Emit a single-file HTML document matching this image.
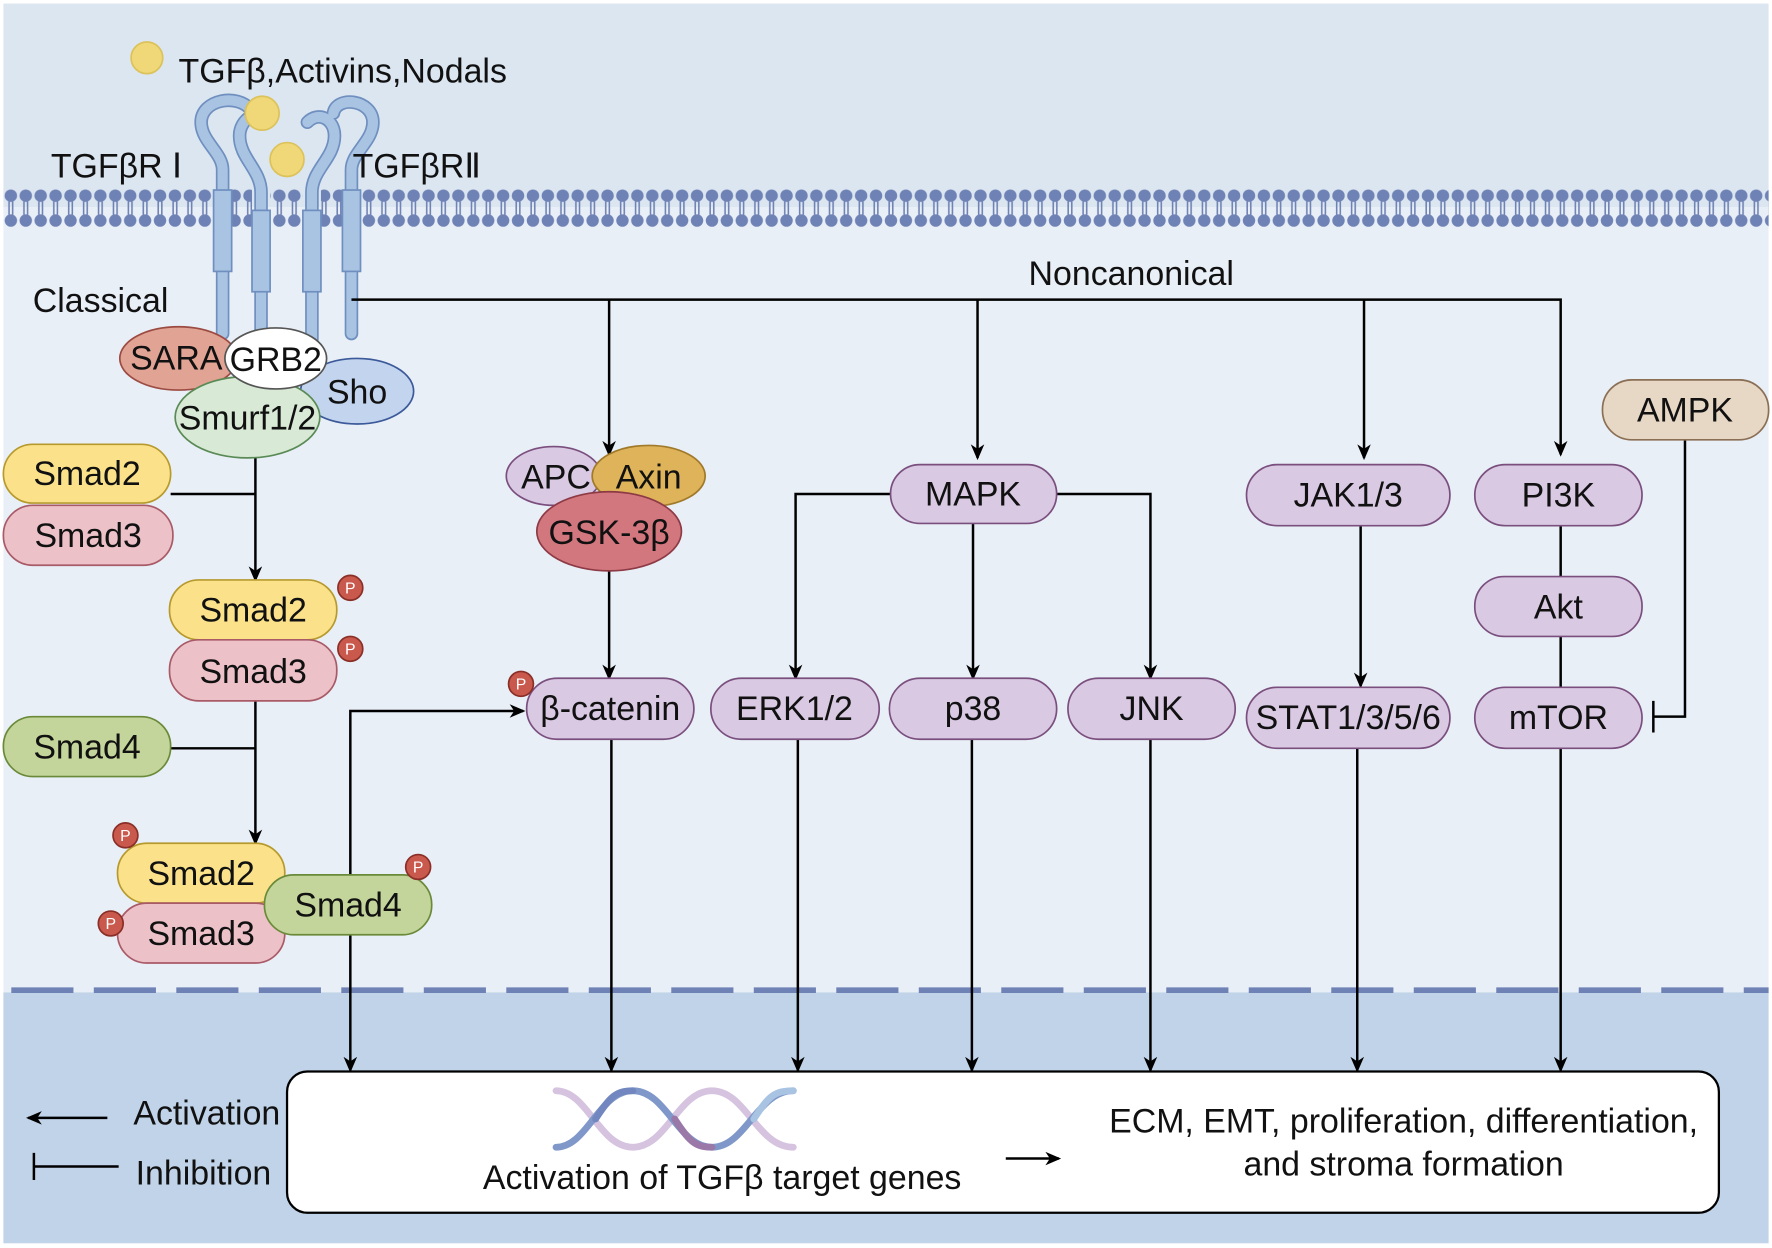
<!DOCTYPE html>
<html><head><meta charset="utf-8"><style>html,body{margin:0;padding:0;background:#fff}svg{display:block}text{font-family:"Liberation Sans",Arial,sans-serif;fill:#111}</style></head><body>
<svg width="1772" height="1248" viewBox="0 0 1568 1104" xmlns="http://www.w3.org/2000/svg">
<defs>
<marker id="ar" markerWidth="14" markerHeight="14" refX="12" refY="7" orient="auto" markerUnits="userSpaceOnUse"><path d="M0,1 L14,7 L0,13 L4,7 Z" fill="#000"/></marker>
<pattern id="lipT" x="3" y="166" width="13.2" height="36" patternUnits="userSpaceOnUse">
<circle cx="6.6" cy="7" r="5.5" fill="#6f82b5"/>
<circle cx="6.6" cy="29" r="5.5" fill="#6f82b5"/>
<line x1="5" y1="12" x2="5" y2="24" stroke="#6f82b5" stroke-width="1.4"/>
<line x1="8.2" y1="12" x2="8.2" y2="24" stroke="#6f82b5" stroke-width="1.4"/>
</pattern>
</defs>
<rect x="0" y="0" width="1568" height="1104" fill="#fff"/>
<rect x="3" y="3" width="1562" height="180" fill="#dbe6f1"/>
<rect x="3" y="183" width="1562" height="695" fill="#e9eff7"/>
<rect x="3" y="878" width="1562" height="222" fill="#c0d3e8"/>
<rect x="3" y="166" width="186" height="36" fill="url(#lipT)"/>
<rect x="205" y="166" width="18" height="36" fill="url(#lipT)"/>
<rect x="239" y="166" width="29" height="36" fill="url(#lipT)"/>
<rect x="284" y="166" width="19" height="36" fill="url(#lipT)"/>
<rect x="319" y="166" width="1246" height="36" fill="url(#lipT)"/>
<line x1="10" y1="876" x2="1565" y2="876" stroke="#6f82b5" stroke-width="5" stroke-dasharray="55,18"/>

<g fill="none" stroke-linecap="round">
<g stroke="#6f8fbf" stroke-width="12">
<path d="M197,295 V150 C197,135 178,125 178,108 C178,88 210,82 222,97"/>
<path d="M231,300 V170 C231,150 212,140 212,120 C212,105 228,95 240,105"/>
<path d="M276,300 V170 C276,150 296,140 296,120 C296,105 282,98 272,108"/>
<path d="M311,295 V150 C311,135 330,125 330,108 C330,88 298,84 295,100"/>
</g>
<g stroke="#a9c3e3" stroke-width="9">
<path d="M197,295 V150 C197,135 178,125 178,108 C178,88 210,82 222,97"/>
<path d="M231,300 V170 C231,150 212,140 212,120 C212,105 228,95 240,105"/>
<path d="M276,300 V170 C276,150 296,140 296,120 C296,105 282,98 272,108"/>
<path d="M311,295 V150 C311,135 330,125 330,108 C330,88 298,84 295,100"/>
</g>
</g>
<g fill="#a9c3e3" stroke="#6f8fbf" stroke-width="1.5">
<rect x="189" y="168" width="16" height="72"/>
<rect x="223" y="186" width="16" height="72"/>
<rect x="268" y="186" width="16" height="72"/>
<rect x="303" y="168" width="16" height="72"/>
</g>
<g fill="#f0d878" stroke="#dcc25a" stroke-width="1.5">
<circle cx="130" cy="51" r="14"/><circle cx="232" cy="100" r="15"/><circle cx="254" cy="141" r="15"/>
</g>
<text x="158" y="73" font-size="30">TGFβ,Activins,Nodals</text>
<text x="45" y="157" font-size="30">TGFβR Ⅰ</text>
<text x="312" y="157" font-size="30">TGFβRⅡ</text>
<text x="29" y="276" font-size="30">Classical</text>
<text x="1001" y="252" font-size="30" text-anchor="middle">Noncanonical</text>

<g stroke="#000" stroke-width="2.2" fill="none">
<path d="M311,265 H1381 V402" marker-end="url(#ar)"/>
<path d="M539,265 V402" marker-end="url(#ar)"/>
<path d="M865,265 V405" marker-end="url(#ar)"/>
<path d="M1207,265 V405" marker-end="url(#ar)"/>
<path d="M788,437 H704 V600" marker-end="url(#ar)"/>
<path d="M935,437 H1018 V600" marker-end="url(#ar)"/>
<path d="M861,463 V600" marker-end="url(#ar)"/>
<path d="M539,505 V600" marker-end="url(#ar)"/>
<path d="M1204,465 V607" marker-end="url(#ar)"/>
<path d="M1381,465 V510 M1381,563 V608"/>
<path d="M1491,389 V634 H1463 M1463,620 V648"/>
<path d="M151,437 H226 M226,400 V513" marker-end="url(#ar)"/>
<path d="M151,662 H226 M226,620 V746" marker-end="url(#ar)"/>
<path d="M310,774 V629 H463" marker-end="url(#ar)"/>
<path d="M310,827 V947" marker-end="url(#ar)"/>
<path d="M541,654 V947" marker-end="url(#ar)"/>
<path d="M706,654 V947" marker-end="url(#ar)"/>
<path d="M860,654 V947" marker-end="url(#ar)"/>
<path d="M1018,654 V947" marker-end="url(#ar)"/>
<path d="M1201,662 V947" marker-end="url(#ar)"/>
<path d="M1381,662 V947" marker-end="url(#ar)"/>
</g>

<ellipse cx="158" cy="317" rx="52" ry="28" fill="#e0a394" stroke="#9c4b42" stroke-width="1.5"/>
<ellipse cx="316" cy="346" rx="50" ry="29" fill="#c3d5ee" stroke="#3c5a9a" stroke-width="1.5"/>
<ellipse cx="219" cy="369" rx="64" ry="36" fill="#d8ead6" stroke="#5a8a55" stroke-width="1.5"/>
<ellipse cx="244" cy="317" rx="45" ry="27" fill="#fff" stroke="#555" stroke-width="1.5"/>
<g font-size="30">
<text x="156" y="327" text-anchor="middle">SARA</text>
<text x="244" y="328" text-anchor="middle">GRB2</text>
<text x="316" y="357" text-anchor="middle">Sho</text>
<text x="219" y="380" text-anchor="middle">Smurf1/2</text>
</g>

<g stroke-width="1.5">
<rect x="3" y="393" width="148" height="52" rx="26" fill="#fbe28a" stroke="#b79a2e"/>
<rect x="3" y="447" width="150" height="53" rx="26" fill="#ecc1c8" stroke="#a95a67"/>
<rect x="150" y="513" width="148" height="53" rx="26" fill="#fbe28a" stroke="#b79a2e"/>
<rect x="150" y="566" width="148" height="54" rx="26" fill="#ecc1c8" stroke="#a95a67"/>
<rect x="3" y="634" width="148" height="53" rx="26" fill="#c3d59a" stroke="#6a8a3a"/>
<rect x="104" y="746" width="148" height="53" rx="26" fill="#fbe28a" stroke="#b79a2e"/>
<rect x="104" y="799" width="148" height="53" rx="26" fill="#ecc1c8" stroke="#a95a67"/>
<rect x="234" y="774" width="148" height="53" rx="26" fill="#c3d59a" stroke="#6a8a3a"/>
</g>
<g font-size="30" text-anchor="middle">
<text x="77" y="429">Smad2</text><text x="78" y="484">Smad3</text>
<text x="224" y="550">Smad2</text><text x="224" y="604">Smad3</text>
<text x="77" y="671">Smad4</text>
<text x="178" y="783">Smad2</text><text x="178" y="836">Smad3</text>
<text x="308" y="811">Smad4</text>
</g>

<ellipse cx="490" cy="421" rx="42" ry="26" fill="#d9c9e3" stroke="#7a4f7e" stroke-width="1.5"/>
<ellipse cx="574" cy="421" rx="50" ry="27" fill="#deb35a" stroke="#a07a2a" stroke-width="1.5"/>
<ellipse cx="539" cy="470" rx="64" ry="35" fill="#d3777f" stroke="#8d3a45" stroke-width="1.5"/>
<g font-size="30" text-anchor="middle">
<text x="492" y="432">APC</text><text x="574" y="432">Axin</text><text x="539" y="481">GSK-3β</text>
</g>
<g fill="#d9c9e3" stroke="#7a4f7e" stroke-width="1.5">
<rect x="466" y="600" width="148" height="54" rx="27"/>
<rect x="788" y="411" width="147" height="52" rx="26"/>
<rect x="629" y="600" width="149" height="54" rx="27"/>
<rect x="787" y="600" width="148" height="54" rx="27"/>
<rect x="945" y="600" width="148" height="54" rx="27"/>
<rect x="1103" y="411" width="180" height="54" rx="27"/>
<rect x="1103" y="608" width="180" height="54" rx="27"/>
<rect x="1305" y="411" width="148" height="54" rx="27"/>
<rect x="1305" y="510" width="148" height="53" rx="26"/>
<rect x="1305" y="608" width="148" height="54" rx="27"/>
</g>
<rect x="1418" y="336" width="147" height="53" rx="26" fill="#e7d8c6" stroke="#8b6f55" stroke-width="1.5"/>
<g font-size="30" text-anchor="middle">
<text x="540" y="637">β-catenin</text>
<text x="861" y="447">MAPK</text>
<text x="703" y="637">ERK1/2</text>
<text x="861" y="637">p38</text>
<text x="1019" y="637">JNK</text>
<text x="1193" y="448">JAK1/3</text>
<text x="1193" y="645">STAT1/3/5/6</text>
<text x="1379" y="448">PI3K</text>
<text x="1379" y="547">Akt</text>
<text x="1379" y="645">mTOR</text>
<text x="1491" y="373">AMPK</text>
</g>

<g fill="#c9594d" stroke="#8a2f27" stroke-width="1.5">
<circle cx="310" cy="520" r="11"/><circle cx="310" cy="574" r="11"/><circle cx="111" cy="739" r="11"/><circle cx="370" cy="767" r="11"/><circle cx="98" cy="817" r="11"/><circle cx="461" cy="605" r="11"/>
</g>
<g font-size="14" text-anchor="middle">
<text x="310" y="525" style="fill:#fff">P</text><text x="310" y="579" style="fill:#fff">P</text><text x="111" y="744" style="fill:#fff">P</text><text x="370" y="772" style="fill:#fff">P</text><text x="98" y="822" style="fill:#fff">P</text><text x="461" y="610" style="fill:#fff">P</text>
</g>

<rect x="254" y="948" width="1267" height="125" rx="18" fill="#fff" stroke="#000" stroke-width="2"/>
<g stroke-width="6" fill="none" stroke-linecap="round">
<path d="M492,965 C520,965 530,1015 560,1015 C590,1015 600,965 630,965 C660,965 670,1015 702,1015" stroke="#d5c3df"/>
<path d="M492,1015 C520,1015 530,965 560,965 C590,965 600,1015 630,1015 C660,1015 670,965 702,965" stroke="#7f98c9"/>
<path d="M527,990 C540,970 545,965 560,965" stroke="#7287bf"/>
<path d="M597,990 C610,1010 615,1015 630,1015" stroke="#9a78a8"/>
<path d="M667,990 C680,970 685,965 702,965" stroke="#a9c3e3"/>
</g>
<text x="639" y="1052" font-size="30" text-anchor="middle">Activation of TGFβ target genes</text>
<path d="M890,1025 H937" stroke="#000" stroke-width="2.2" marker-end="url(#ar)"/>
<text x="1242" y="1002" font-size="30" text-anchor="middle">ECM, EMT, proliferation, differentiation,</text>
<text x="1242" y="1040" font-size="30" text-anchor="middle">and stroma formation</text>

<path d="M95,989 H25" stroke="#000" stroke-width="2.2" marker-end="url(#ar)"/>
<text x="118" y="995" font-size="30">Activation</text>
<path d="M105,1032 H30 M30,1020 V1044" stroke="#000" stroke-width="2.2" fill="none"/>
<text x="120" y="1048" font-size="30">Inhibition</text>
</svg>
</body></html>
